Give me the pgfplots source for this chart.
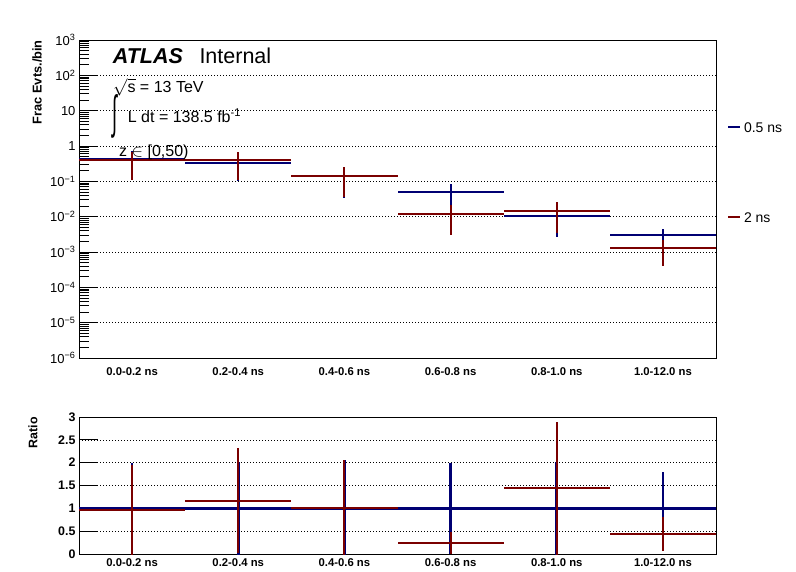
\documentclass[border=0pt]{standalone}
\usepackage{pgfplots}
\pgfplotsset{compat=1.18}
\usepackage{pgfplotstable}
\usepackage{graphicx}
\usepackage{fontspec}
\setmainfont{Liberation Sans}
\definecolor{navyc}{RGB}{0,0,115}
\definecolor{darkr}{RGB}{122,0,0}

\pgfplotstableread{
x ex y ey
0.5 0.5 0.44 0.26
1.5 0.5 0.33 0.23
2.5 0.5 0.145 0.112
3.5 0.5 0.051 0.033
4.5 0.5 0.0104 0.0077
5.5 0.5 0.0030 0.0014
}\bluetop
\pgfplotstableread{
x ex y ey
0.5 0.5 0.40 0.29
1.5 0.5 0.395 0.285
2.5 0.5 0.146 0.11
3.5 0.5 0.012 0.009
4.5 0.5 0.0145 0.011
5.5 0.5 0.00129 0.00088
}\redtop
\pgfplotstableread{
x ex y ey
0.5 0.5 1 1
1.5 0.5 1 1.02
2.5 0.5 1 1.06
3.5 0.5 1 1
4.5 0.5 1 1.02
5.5 0.5 1 0.79
}\blueratio
\pgfplotstableread{
x ex y ey
0.5 0.5 0.955 0.99
1.5 0.5 1.17 1.15
2.5 0.5 1.00 1.06
3.5 0.5 0.25 0.24
4.5 0.5 1.44 1.46
5.5 0.5 0.44 0.38
}\redratio

\begin{document}
\begin{tikzpicture}
\useasboundingbox (0,0) rectangle (796bp,572bp);
\pgfplotsset{
  rootax/.style={
    scale only axis, width=637bp, xmin=0, xmax=6,
    axis line style={line width=0.8bp, black},
    tick style={line width=0.8bp, black},
    xtick=\empty, minor xtick={1,2,3,4,5},
    extra x ticks={0.5,1.5,2.5,3.5,4.5,5.5},
    extra x tick labels={0.0-0.2 ns,0.2-0.4 ns,0.4-0.6 ns,0.6-0.8 ns,0.8-1.0 ns,1.0-12.0 ns},
    extra x tick style={grid=none, major tick length=0pt},
    xtick pos=bottom, ytick pos=left, tick align=inside,
    xminorgrids, ymajorgrids,
    grid style={black, line width=0.6bp, dash pattern=on 1bp off 2bp},
    minor grid style={black, line width=0.6bp, dash pattern=on 1bp off 2bp},
    major tick length=19bp,
  },
  errs/.style={only marks, mark size=0pt, mark options={draw=none, fill=none}, forget plot,
    error bars/x dir=both, error bars/x explicit,
    error bars/y dir=both, error bars/y explicit,
    error bars/error mark=none,
    error bars/error bar style={line width=#1, solid}},
}
\begin{axis}[rootax,
  at={(79bp,214bp)}, anchor=south west, height=318bp,
  ymode=log, ymin=1e-6, ymax=1e3,
  minor tick length=10bp,
  xticklabel style={font=\fontsize{11.3bp}{13bp}\selectfont\bfseries, anchor=base, yshift=-17.5bp},
  ytick={1e-6,1e-5,1e-4,1e-3,1e-2,1e-1,1,10,100,1000},
  yticklabels={10\textsuperscript{−6},10\textsuperscript{−5},10\textsuperscript{−4},10\textsuperscript{−3},10\textsuperscript{−2},10\textsuperscript{−1},1,10,10\textsuperscript{2},10\textsuperscript{3}},
  yticklabel style={font=\fontsize{13bp}{15bp}\selectfont},
  minor ytick={2e-6,3e-6,4e-6,5e-6,6e-6,7e-6,8e-6,9e-6,
    2e-5,3e-5,4e-5,5e-5,6e-5,7e-5,8e-5,9e-5,
    2e-4,3e-4,4e-4,5e-4,6e-4,7e-4,8e-4,9e-4,
    2e-3,3e-3,4e-3,5e-3,6e-3,7e-3,8e-3,9e-3,
    2e-2,3e-2,4e-2,5e-2,6e-2,7e-2,8e-2,9e-2,
    0.2,0.3,0.4,0.5,0.6,0.7,0.8,0.9,
    2,3,4,5,6,7,8,9,
    20,30,40,50,60,70,80,90,
    200,300,400,500,600,700,800,900},
  legend style={at={(rel axis cs:1.0173,0.7421)}, anchor=north west, draw=none, fill=none,
    inner sep=0pt, outer sep=0pt, row sep=80bp, column sep=3bp,
    font=\fontsize{14bp}{16bp}\selectfont,
    nodes={inner sep=0pt, text height=10bp, text depth=0bp}},
  legend cell align=left,
  legend image code/.code={\draw[#1] (0bp,0bp) -- (12bp,0bp);},
]
\addplot[navyc, errs=2bp] table[x=x, y=y, x error=ex, y error=ey] {\bluetop};
\addplot[darkr, errs=2bp] table[x=x, y=y, x error=ex, y error=ey] {\redtop};
\addlegendimage{navyc, line width=2bp}
\addlegendentry{0.5 ns}
\addlegendimage{darkr, line width=2bp}
\addlegendentry{2 ns}
\end{axis}

\begin{axis}[rootax,
  at={(79bp,18bp)}, anchor=south west, height=137bp,
  ymin=0, ymax=3, ytick={0,0.5,1,1.5,2,2.5,3},
  minor tick length=4bp,
  xticklabel style={font=\fontsize{11.3bp}{13bp}\selectfont\bfseries, anchor=base, yshift=-12bp},
  yticklabel style={font=\fontsize{12.4bp}{14bp}\selectfont\bfseries},
  /pgf/number format/assume math mode=true,
]
\addplot[navyc, errs=2.8bp] table[x=x, y=y, x error=ex, y error=ey] {\blueratio};
\addplot[darkr, errs=2bp] table[x=x, y=y, x error=ex, y error=ey] {\redratio};
\end{axis}

\node[anchor=base west, inner sep=0pt, font=\fontsize{21.5bp}{24bp}\selectfont\bfseries\itshape] at (112.7bp,508bp) {ATLAS};
\node[anchor=base west, inner sep=0pt, font=\fontsize{21.5bp}{24bp}\selectfont] at (199.3bp,508bp) {Internal};
\node[anchor=base west, inner sep=0pt, font=\fontsize{16bp}{18bp}\selectfont] at (113bp,479.3bp) {$\sqrt{\mbox{s}}$ = 13 TeV};
\node[anchor=center, inner sep=0pt, font=\fontsize{16bp}{18bp}\selectfont] at (115bp,456bp) {\resizebox{5bp}{34bp}{∫}};
\node[anchor=base west, inner sep=0pt, font=\fontsize{16bp}{18bp}\selectfont] at (127.7bp,449.3bp) {L dt = 138.5 fb\textsuperscript{-1}};
\node[anchor=base west, inner sep=0pt, font=\fontsize{16bp}{18bp}\selectfont] at (119bp,415.3bp) {z $\in$ [0,50)};
\node[rotate=90, anchor=east, inner sep=0pt, font=\fontsize{12.8bp}{14bp}\selectfont\bfseries] at (37bp,532bp) {Frac Evts./bin};
\node[rotate=90, anchor=east, inner sep=0pt, font=\fontsize{12.4bp}{14bp}\selectfont\bfseries] at (33bp,155bp) {Ratio};
\end{tikzpicture}
\end{document}
